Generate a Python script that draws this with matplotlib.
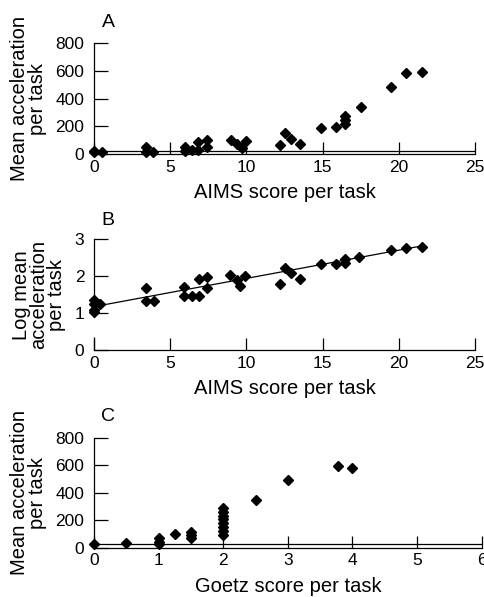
import matplotlib
matplotlib.use("Agg")
import matplotlib.pyplot as plt

plt.rcParams["font.family"] = ["Liberation Sans", "DejaVu Sans"]

# Panel A: AIMS score vs mean acceleration
aims_a = [0, 0, 0.5, 3.4, 3.4, 3.9, 5.95, 6.0, 6.4, 6.85, 6.85, 7.4, 7.4,
          9.0, 9.4, 9.7, 10.0, 12.2, 12.5, 12.95, 13.5, 14.9, 15.9,
          16.5, 16.5, 16.5, 17.5, 19.5, 20.5, 21.5]
accel_a = [22, 11, 18, 53, 12, 12, 53, 22, 29, 87, 29, 99, 51,
           99, 75, 46, 94, 63, 150, 107, 70, 189, 196,
           276, 245, 216, 337, 482, 584, 591]

# Panel B: AIMS score vs log mean acceleration, with fitted line
aims_b = [0, 0, 0, 0, 0.4, 3.4, 3.4, 3.95, 5.9, 5.9, 6.4, 6.9, 6.9, 7.4, 7.4,
          8.9, 9.4, 9.6, 9.9, 12.2, 12.5, 12.9, 13.5, 14.9, 15.9,
          16.5, 16.5, 17.4, 19.5, 20.5, 21.5]
log_accel_b = [1.36, 1.25, 1.09, 1.03, 1.24, 1.69, 1.32, 1.32, 1.72, 1.48, 1.48,
               1.93, 1.48, 1.99, 1.69, 2.04, 1.90, 1.75, 2.01, 1.79, 2.22, 2.08,
               1.92, 2.32, 2.32, 2.47, 2.35, 2.53, 2.71, 2.77, 2.80]
fit_x = [0, 21.5]
fit_y = [1.18, 2.82]

# Panel C: Goetz score vs mean acceleration
goetz = [0, 0.5, 1, 1, 1, 1.25, 1.5, 1.5, 1.5,
         2, 2, 2, 2, 2, 2, 2, 2, 2.5, 3, 3.77, 4]
accel_c = [24, 32, 68, 44, 27, 99, 116, 92, 68,
           286, 262, 233, 206, 177, 148, 121, 92, 347, 492, 594, 582]

baseline_level = 25
MS = 5.2

fig = plt.figure(figsize=(4.85, 5.97), dpi=100)
ax_a = fig.add_axes([0.1938, 0.742, 0.7856, 0.186])
ax_b = fig.add_axes([0.1938, 0.4132, 0.7856, 0.186])
ax_c = fig.add_axes([0.1938, 0.0826, 0.7994, 0.184])


def style(ax, xlabel, ylabel):
    for s in ("top", "right"):
        ax.spines[s].set_visible(False)
    for s in ("left", "bottom"):
        ax.spines[s].set_linewidth(0.9)
    ax.tick_params(axis="x", direction="in", length=9, width=0.9, pad=4, labelsize=12.5)
    ax.tick_params(axis="y", direction="in", length=10, width=0.9, pad=7, labelsize=12.5)
    ax.set_xlabel(xlabel, fontsize=14.5, labelpad=6)
    ax.set_ylabel(ylabel, fontsize=14.5, labelpad=6, linespacing=0.92)


# A
ax_a.plot(aims_a, accel_a, "D", color="black", ms=MS, clip_on=False)
ax_a.axhline(baseline_level, color="black", lw=0.9)
ax_a.set_xlim(0, 25)
ax_a.set_ylim(0, 800)
ax_a.set_xticks([0, 5, 10, 15, 20, 25])
ax_a.set_yticks([0, 200, 400, 600, 800])
style(ax_a, "AIMS score per task", "Mean acceleration\nper task")
ax_a.text(0.037, 1.14, "A", transform=ax_a.transAxes, fontsize=14, ha="center")

# B
ax_b.plot(aims_b, log_accel_b, "D", color="black", ms=MS, clip_on=False)
ax_b.plot(fit_x, fit_y, color="black", lw=0.9)
ax_b.set_xlim(0, 25)
ax_b.set_ylim(0, 3)
ax_b.set_xticks([0, 5, 10, 15, 20, 25])
ax_b.set_yticks([0, 1, 2, 3])
style(ax_b, "AIMS score per task", "Log mean\nacceleration\nper task")
ax_b.text(0.037, 1.13, "B", transform=ax_b.transAxes, fontsize=14, ha="center")
# the left axis in the original has a gap between roughly 0.35 and 0.9
ax_b.spines["left"].set_bounds(0.9, 3)
ax_b.vlines(0, 0, 0.35, color="black", lw=0.9, clip_on=False)

# C
ax_c.plot(goetz, accel_c, "D", color="black", ms=MS, clip_on=False)
ax_c.axhline(baseline_level, color="black", lw=0.9)
ax_c.set_xlim(0, 6)
ax_c.set_ylim(0, 800)
ax_c.set_xticks([0, 1, 2, 3, 4, 5, 6])
ax_c.set_yticks([0, 200, 400, 600, 800])
style(ax_c, "Goetz score per task", "Mean acceleration\nper task")
ax_c.text(0.037, 1.15, "C", transform=ax_c.transAxes, fontsize=14, ha="center")

fig.savefig("out.png", dpi=100)
